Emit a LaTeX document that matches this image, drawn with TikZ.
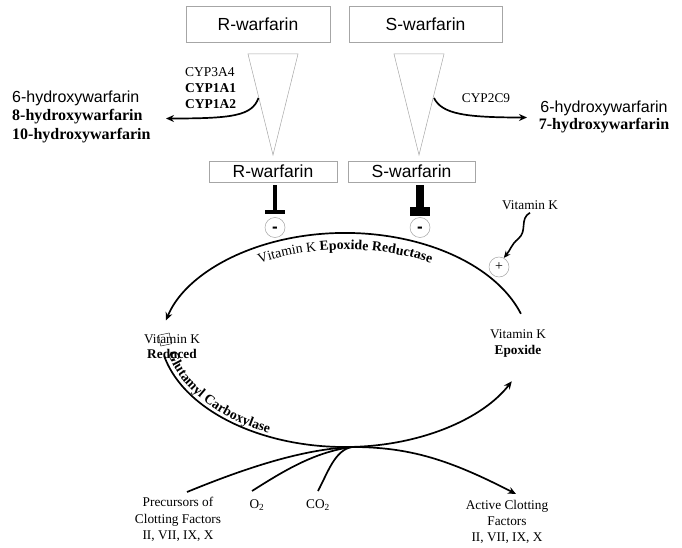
\documentclass[tikz,border=0pt]{standalone}
\usepackage{fontspec}
\setmainfont{Liberation Serif}
\setsansfont{Liberation Sans}
\usetikzlibrary{arrows.meta,decorations.text,calc}
\begin{document}
\begin{tikzpicture}[x=1pt,y=1pt,
 graybox/.style={draw=black!35, line width=0.6pt, inner sep=0pt, font=\sffamily\fontsize{17.5}{20}\selectfont},
 tri/.style={draw=black!35, line width=0.5pt},
 lbl/.style={inner sep=0pt, font=\fontsize{13.3}{15.5}\selectfont, align=center},
 prod/.style={inner sep=0pt, font=\fontsize{16}{18.5}\selectfont},
 signc/.style={circle, draw=black!35, line width=0.5pt, minimum size=20pt, inner sep=0pt},
 minusc/.style={signc, text height=9pt, text depth=0pt, font=\sffamily\bfseries\fontsize{17}{17}\selectfont},
 flow/.style={line width=1.7pt},
 arr/.style={-{Stealth[length=8pt,width=7pt]}}
]
\useasboundingbox (0,0) rectangle (682,-548);

% warfarin boxes
\node[graybox, minimum width=144pt, minimum height=36pt] (rtop) at (258,-24) {R-warfarin};
\node[graybox, minimum width=153pt, minimum height=36pt] (stop) at (425.5,-24) {S-warfarin};
\node[graybox, minimum width=128pt, minimum height=21pt] (rlow) at (273,-171.5) {R-warfarin};
\node[graybox, minimum width=127pt, minimum height=21pt] (slow) at (411.5,-171.5) {S-warfarin};

% triangles
\draw[tri] (248,-54) -- (298,-54) -- (273,-155) -- cycle;
\draw[tri] (394,-54) -- (444,-54) -- (419,-155) -- cycle;

% metabolism labels
\node[prod, anchor=west, align=left] (lprod) at (12,-116.5)
  {{\sffamily 6-hydroxywarfarin}\\\textbf{8-hydroxywarfarin}\\\textbf{10-hydroxywarfarin}};
\node[prod, align=center, font=\fontsize{16}{17}\selectfont] (rprod) at (604,-116.5)
  {{\sffamily 6-hydroxywarfarin}\\\textbf{7-hydroxywarfarin}};
\node[lbl, anchor=west, align=left, font=\fontsize{13.5}{16}\selectfont] (cypr) at (185,-88)
  {CYP3A4\\\textbf{CYP1A1}\\\textbf{CYP1A2}};
\node[lbl] (cyps) at (486,-98) {CYP2C9};

\coordinate (ra) at (258.5,-98);
\coordinate (rend) at (166,-118.5);
\coordinate (sa) at (434,-98);
\coordinate (send) at (527,-117.5);
\draw[flow, arr] (ra) .. controls (252,-116) and (232,-118.5) .. (rend);
\draw[flow, arr] (sa) .. controls (442,-114) and (465,-117.5) .. (send);

% inhibition bars
\fill (273.25,-185) rectangle (276.75,-210);
\fill (265,-209.5) rectangle (285,-213.5);
\fill (416,-185) rectangle (424,-208);
\fill (410,-207) rectangle (430,-215.5);

% signs
\node[minusc] (m1) at (275,-227.5) {-};
\node[minusc] (m2) at (420,-227.5) {-};
\node[signc] (pl) at (499,-267) {\fontsize{14}{14}\selectfont +};

% vitamin K input
\node[lbl] (vk) at (530,-205) {Vitamin K};
\draw[line width=1.6pt, -{Stealth[length=7pt,width=6pt]}] ([yshift=-3pt]vk.south)
  .. controls (519,-219) and (528,-231) .. (518,-239)
  .. controls (511,-245) and (511,-249) .. (pl.62);

% cycle labels
\node[lbl, font=\fontsize{13.3}{15}\selectfont] (vkr) at (172,-346.5) {Vitamin K\\\textbf{Reduced}};
\node[lbl, font=\fontsize{13.3}{16}\selectfont] (vke) at (518,-344) {Vitamin K\\\textbf{Epoxide}};
\draw[line width=0.4pt, rotate around={12:(165,-339.5)}] (159.5,-334) rectangle (170.5,-345);

% cycle arcs
\coordinate (ue) at (520.9,-313.8);
\draw[flow, arr] (ue) arc[start angle=18, end angle=165.4, x radius=185pt, y radius=117pt];
\coordinate (ls) at (164.3,-356.3);
\draw[flow, arr] (ls) arc[start angle=193, end angle=334, x radius=185.5pt, y radius=117pt];

\begin{scope}[execute at begin scope={\fontsize{13.8}{16}\selectfont}]
\path[decorate, decoration={text along path, text align=center,
   text={Vitamin K |\bfseries|Epoxide Reductase}}]
  (223.4,-279.5) arc[start angle=135, end angle=45, x radius=172pt, y radius=102pt];
\path[decorate, decoration={text along path, text align=left,
   text={|\bfseries|Glutamyl Carboxylase}}]
  (168.0,-353.6) arc[start angle=192, end angle=275, x radius=181pt, y radius=113.5pt];
\end{scope}

% carboxylation
\coordinate (mj) at (352,-447);
\coordinate (p1) at (187,-492);
\coordinate (o1) at (252,-491);
\coordinate (c1) at (318,-491);
\coordinate (a1) at (516,-494);
\draw[flow] (p1) .. controls (260,-462) and (310,-449) .. (mj);
\draw[flow] (o1) .. controls (285,-470) and (315,-452) .. (mj);
\draw[flow] (c1) .. controls (328,-472) and (335,-450) .. (mj);
\draw[flow, arr] (mj) .. controls (410,-447) and (450,-460) .. (a1);

\node[lbl, font=\fontsize{13.3}{16.5}\selectfont] (prec) at (178,-519.5) {Precursors of\\Clotting Factors\\II, VII, IX, X};
\node[lbl] (o2) at (257,-505) {O\textsubscript{2}};
\node[lbl] (co2) at (318,-505) {CO\textsubscript{2}};
\node[lbl, font=\fontsize{13.3}{16}\selectfont] (act) at (507,-522) {Active Clotting\\Factors\\II, VII, IX, X};
\end{tikzpicture}
\end{document}
